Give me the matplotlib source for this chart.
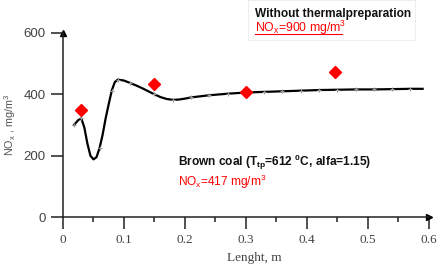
import matplotlib.pyplot as plt
from matplotlib.lines import Line2D
from matplotlib.patches import Rectangle

plt.rcParams["mathtext.fontset"] = "custom"
plt.rcParams["mathtext.rm"] = "Liberation Sans"
plt.rcParams["mathtext.it"] = "Liberation Sans"
plt.rcParams["mathtext.bf"] = "Liberation Sans:bold"

# calculated NOx profile along the reactor (brown coal)
length = [0.018, 0.025, 0.030, 0.035, 0.040, 0.045, 0.050, 0.055, 0.060, 0.065,
          0.070, 0.075, 0.080, 0.085, 0.090, 0.10, 0.11, 0.12, 0.13, 0.14,
          0.15, 0.16, 0.17, 0.18, 0.19, 0.20, 0.21, 0.24, 0.27, 0.30,
          0.33, 0.36, 0.39, 0.42, 0.45, 0.48, 0.51, 0.54, 0.57, 0.59]
nox = [300, 316, 322, 292, 240, 200, 188, 195, 225, 268,
       322, 368, 412, 440, 448, 445, 437, 429, 420, 410,
       400, 391, 385, 382, 383, 386, 390, 397, 402, 406,
       408, 410, 412, 414, 415, 416, 416, 417, 418, 418]
# indices of the grey marks drawn on the curve
mark_idx = [0, 2, 8, 12, 14, 16, 20, 23, 26, 27, 28, 29, 30, 31, 32, 33, 34, 35, 36, 37, 38]

# measured values
meas_x = [0.03, 0.15, 0.30, 0.447]
meas_y = [349, 434, 408, 472]

xticks = [0, 0.1, 0.2, 0.3, 0.4, 0.5, 0.6]
xtick_labels = ["0", "0.1", "0.2", "0.3", "0.4", "0.5", "0.6"]
yticks = [0, 200, 400, 600]


def main():
    fig = plt.figure(figsize=(4.38, 2.65), dpi=100)
    ax = fig.add_axes([0.1438, 0.181, 0.835, 0.6945])

    ax.plot(length, nox, color="black", lw=1.6, zorder=3)
    ax.plot([length[i] for i in mark_idx], [nox[i] for i in mark_idx], ls="none",
            marker="+", ms=3.5, mew=0.8, color="#999999", zorder=4)
    ax.plot(meas_x, meas_y, ls="none", marker="D", ms=6.5, color="#ff0000", zorder=5)

    ax.set_xlim(0, 0.6)
    ax.set_ylim(0, 600)
    for s in ["top", "right"]:
        ax.spines[s].set_visible(False)
    for s in ["left", "bottom"]:
        ax.spines[s].set_linewidth(1.1)
        ax.spines[s].set_color("#222222")

    ax.set_xticks(xticks)
    ax.set_xticklabels(xtick_labels, family="Liberation Serif", fontsize=9.5, color="#444444")
    ax.set_xticks([0.05, 0.15, 0.25, 0.35, 0.45, 0.55], minor=True)
    ax.set_yticks(yticks)
    ax.set_yticklabels([str(v) for v in yticks], family="Liberation Sans", fontsize=9.5, color="#444444")
    ax.tick_params(which="major", direction="out", length=8.4, width=1.1, pad=4, color="#222222")
    ax.tick_params(which="minor", direction="out", length=3.8, width=1.1, color="#222222")

    # arrow heads on the axes
    ax.plot([1], [0], marker=">", ms=5, color="black", transform=ax.transAxes, clip_on=False)
    ax.plot([0], [1], marker="^", ms=5, color="black", transform=ax.transAxes, clip_on=False)

    fig.text(0.58, 0.027, "Lenght, m", family="Liberation Serif", fontsize=9.5,
             color="#444444", ha="center", va="center")
    fig.text(0.024, 0.53, r"NO$_\mathrm{x}$ , mg/m$^\mathrm{3}$", family="Liberation Sans",
             fontsize=7.8, color="#555555", rotation=90, ha="center", va="center")

    # box at the top
    fig.patches.append(Rectangle((248 / 438, 1 - 40 / 265), 167 / 438, 40 / 265,
                                 transform=fig.transFigure, fill=False,
                                 edgecolor="#eeeeee", lw=0.8))
    fig.text(255 / 438, 1 - 14 / 265, "Without thermalpreparation", family="Liberation Sans",
             fontsize=8.6, weight="bold", color="#111111", va="center")
    fig.text(255 / 438, 1 - 28 / 265, r"NO$_\mathrm{x}$=900 mg/m$^\mathrm{3}$",
             family="Liberation Sans", fontsize=8.8, color="#ff0000", va="center")
    fig.add_artist(Line2D([255 / 438, 342 / 438], [1 - 34 / 265, 1 - 34 / 265],
                          color="#ff0000", lw=0.8, transform=fig.transFigure))

    fig.text(178 / 438, 1 - 162 / 265, r"Brown coal (T$_\mathbf{tp}$=612 $^\mathbf{0}$C, alfa=1.15)",
             family="Liberation Sans", fontsize=8.6, weight="bold", color="#111111", va="center")
    fig.text(178 / 438, 1 - 182 / 265, r"NO$_\mathrm{x}$=417 mg/m$^\mathrm{3}$",
             family="Liberation Sans", fontsize=8.6, color="#ff0000", va="center")

    fig.savefig("out.png", dpi=100)


if __name__ == "__main__":
    main()
